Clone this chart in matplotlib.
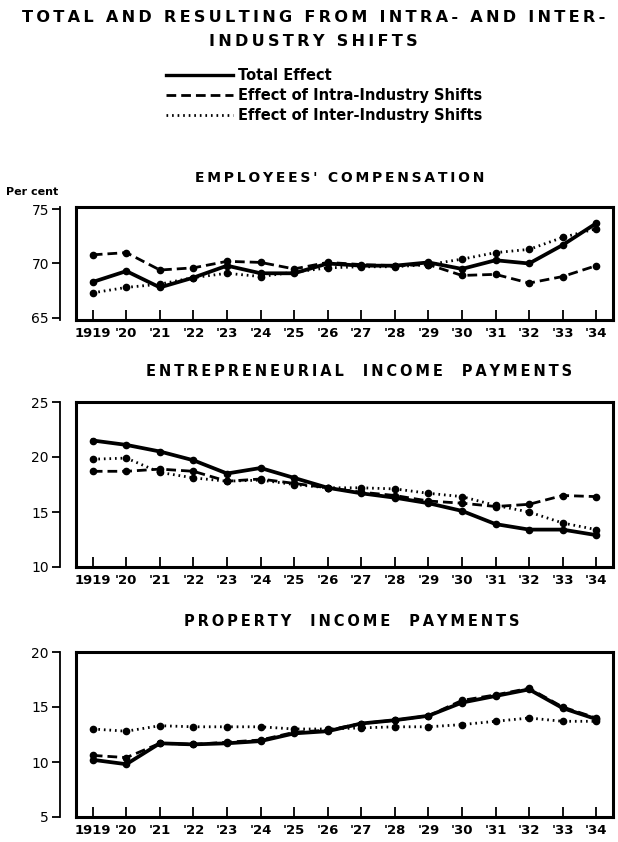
import matplotlib
matplotlib.use("Agg")
import matplotlib.pyplot as plt
from matplotlib.lines import Line2D

# values (per cent)
years = list(range(1919, 1935))
tick_labels = ["1919", "'20", "'21", "'22", "'23", "'24", "'25", "'26",
               "'27", "'28", "'29", "'30", "'31", "'32", "'33", "'34"]

emp_total = [68.3, 69.3, 67.8, 68.7, 69.8, 69.1, 69.1, 70.0, 69.8, 69.8, 70.1, 69.5, 70.3, 70.0, 71.7, 73.7]
emp_intra = [70.8, 71.0, 69.4, 69.6, 70.2, 70.1, 69.5, 70.1, 69.9, 69.8, 69.9, 68.9, 69.0, 68.2, 68.8, 69.8]
emp_inter = [67.3, 67.8, 68.1, 68.7, 69.1, 68.8, 69.2, 69.6, 69.7, 69.7, 69.9, 70.4, 71.0, 71.3, 72.4, 73.2]

ent_total = [21.5, 21.1, 20.5, 19.7, 18.5, 19.0, 18.1, 17.2, 16.7, 16.3, 15.8, 15.1, 13.9, 13.4, 13.4, 12.9]
ent_intra = [18.7, 18.7, 18.9, 18.7, 17.8, 18.0, 17.6, 17.2, 16.8, 16.5, 16.0, 15.8, 15.5, 15.7, 16.5, 16.4]
ent_inter = [19.8, 19.9, 18.6, 18.1, 17.8, 17.9, 17.5, 17.2, 17.2, 17.1, 16.7, 16.4, 15.6, 15.0, 14.0, 13.4]

prop_total = [10.2, 9.8, 11.7, 11.6, 11.7, 11.9, 12.6, 12.8, 13.5, 13.8, 14.2, 15.4, 16.0, 16.6, 14.9, 13.9]
prop_intra = [10.6, 10.4, 11.7, 11.6, 11.8, 12.0, 12.7, 12.9, 13.5, 13.8, 14.2, 15.6, 16.1, 16.7, 15.0, 14.0]
prop_inter = [13.0, 12.8, 13.3, 13.2, 13.2, 13.2, 13.0, 13.0, 13.1, 13.2, 13.2, 13.4, 13.7, 14.0, 13.7, 13.7]

fig = plt.figure(figsize=(6.18, 8.42), dpi=100)
W, H = 618.0, 842.0

def fx(px):
    return px / W

def fy(py):
    return 1 - py / H

def spaced(s):
    # wide letter spacing like the old lettering
    return "\u2009".join(s)

def panel(top, bottom, total, intra, inter, ylim, yticks):
    ax = fig.add_axes([fx(76), fy(bottom), fx(613) - fx(76), (bottom - top) / H])
    ax.plot(years, total, color="black", lw=2.7, marker="o", ms=4.5)
    ax.plot(years, intra, color="black", lw=2.0, ls=(0, (3.5, 1.8)), marker="o", ms=4.5)
    ax.plot(years, inter, color="black", lw=2.0, ls=(0, (0.6, 1.4)), marker="o", ms=4.5)
    ax.set_xlim(1918.5, 1934.5)
    ax.set_ylim(*ylim)
    ax.set_xticks(years)
    ax.set_xticklabels(tick_labels, fontsize=9.5, fontweight="bold")
    ax.set_yticks(yticks)
    ax.set_yticklabels([str(t) for t in yticks], fontsize=10.5, fontweight="bold")
    ax.tick_params(axis="x", direction="in", length=7, width=1.3, pad=5)
    ax.tick_params(axis="y", direction="out", length=6, width=1.3, pad=2)
    for s in ["top", "right", "bottom"]:
        ax.spines[s].set_linewidth(2.2)
    ax.spines["left"].set_position(("outward", 11.5))
    ax.spines["left"].set_linewidth(1.3)
    ax.axvline(1918.5, color="black", lw=2.2, clip_on=False)
    return ax

panel(207, 320, emp_total, emp_intra, emp_inter, (64.8, 75.2), [65, 70, 75])
panel(402, 567, ent_total, ent_intra, ent_inter, (10, 25), [10, 15, 20, 25])
panel(652, 817, prop_total, prop_intra, prop_inter, (5, 20), [5, 10, 15, 20])

fig.text(fx(314), fy(18), spaced("TOTAL AND RESULTING FROM INTRA- AND INTER-"),
         ha="center", va="center", fontsize=11.6, fontweight="bold")
fig.text(fx(313), fy(42), spaced("INDUSTRY SHIFTS"),
         ha="center", va="center", fontsize=11.6, fontweight="bold")

fig.text(fx(340), fy(178), spaced("EMPLOYEES' COMPENSATION"), ha="center", va="center",
         fontsize=10, fontweight="bold")
fig.text(fx(359), fy(372), spaced("ENTREPRENEURIAL  INCOME  PAYMENTS"), ha="center", va="center",
         fontsize=10.5, fontweight="bold")
fig.text(fx(352), fy(622), spaced("PROPERTY  INCOME  PAYMENTS"), ha="center", va="center",
         fontsize=10.5, fontweight="bold")
fig.text(fx(6), fy(192), "Per cent", ha="left", va="center", fontsize=8, fontweight="bold")

handles = [
    Line2D([], [], color="black", lw=2.4),
    Line2D([], [], color="black", lw=2.0, ls=(0, (3.5, 1.8))),
    Line2D([], [], color="black", lw=2.0, ls=(0, (0.6, 1.4))),
]
labels = ["Total Effect", "Effect of Intra-Industry Shifts", "Effect of Inter-Industry Shifts"]
fig.legend(handles, labels, loc="upper left", bbox_to_anchor=(fx(153), fy(55)),
           frameon=False, handlelength=4.6, handletextpad=0.3, labelspacing=0.35,
           prop={"size": 10.5, "weight": "bold"})

fig.savefig("out.png", dpi=100)
